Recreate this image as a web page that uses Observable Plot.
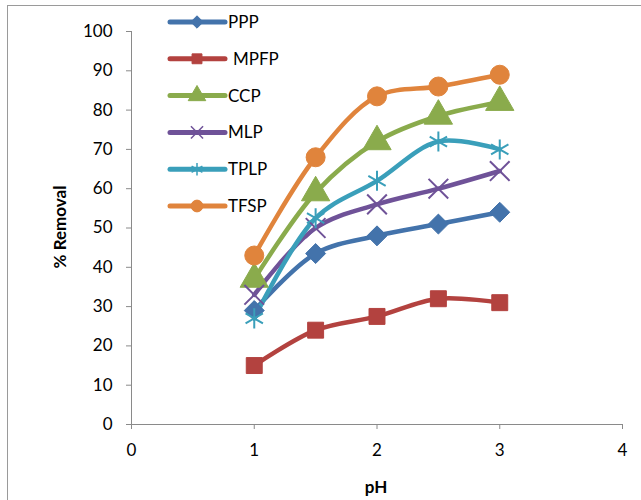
<!DOCTYPE html>
<html><head><meta charset="utf-8">
<script src="https://cdn.jsdelivr.net/npm/d3@7"></script>
<script src="https://cdn.jsdelivr.net/npm/@observablehq/plot@0.6"></script>
<style>
body{margin:0;background:#fff;}
#wrap{position:relative;width:641px;height:500px;overflow:hidden;font-family:Lato,"Liberation Sans",sans-serif}
#frame{position:absolute;left:7px;top:5px;width:700px;height:600px;border:1px solid #9a9a9a;pointer-events:none}
#chart{position:absolute;left:0;top:0}
</style>
</head><body>
<div id="wrap"><div id="chart"></div><div id="frame"></div></div>
<script>
const pH = [1, 1.5, 2, 2.5, 3];
const seriesNames = ["PPP", "MPFP", "CCP", "MLP", "TPLP", "TFSP"];
const PPP  = [29, 43.5, 48, 51, 54];
const MPFP = [15, 24, 27.5, 32, 31];
const CCP  = [37, 59, 72, 78.5, 82];
const MLP  = [33, 50, 56, 60, 64.5];
const TPLP = [27, 52.5, 62, 72, 70];
const TFSP = [43, 68, 83.5, 86, 89];
const xTicks = [0, 1, 2, 3, 4];
const yTicks = [0, 10, 20, 30, 40, 50, 60, 70, 80, 90, 100];
const colors = ["#4373ab", "#b3423f", "#8aab4c", "#6f5298", "#3a9fba", "#e0843c"];
const symbols = ["diamond2", "square", "triangle", "times", "asterisk", "circle"];
const filled = [true, true, true, false, false, true];
const sizes = [9, 9, 10.5, 9, 9.5, 9.5];
const values = [PPP, MPFP, CCP, MLP, TPLP, TFSP];

const data = [];
seriesNames.forEach((s, i) => values[i].forEach((v, j) => data.push({series: s, idx: i, x: pH[j], y: v})));

const marks = [
  Plot.ruleY([0], {stroke: "#8a8a8a"}),
  Plot.ruleX([0], {stroke: "#8a8a8a"}),
  Plot.axisY({ticks: yTicks, tickSize: 5, tickPadding: 14, stroke: "#8a8a8a", fontSize: 17, fill: "#000", label: null, tickFormat: d3.format("d")}),
  Plot.axisX({ticks: xTicks, tickSize: 5, tickPadding: 14, stroke: "#8a8a8a", fontSize: 17, fill: "#000", label: null, tickFormat: d3.format("d")}),
];
seriesNames.forEach((s, i) => {
  const d = data.filter(r => r.series === s);
  marks.push(Plot.line(d, {x: "x", y: "y", stroke: colors[i], strokeWidth: 4.5, curve: "catmull-rom"}));
});
seriesNames.forEach((s, i) => {
  const d = data.filter(r => r.series === s);
  marks.push(Plot.dot(d, {x: "x", y: "y", symbol: () => symbols[i], r: sizes[i],
    fill: filled[i] ? colors[i] : "none", stroke: colors[i], strokeWidth: filled[i] ? 1 : 2}));
});

const chart = Plot.plot({
  width: 641, height: 500,
  marginLeft: 131, marginRight: 19, marginTop: 31, marginBottom: 76,
  style: {fontFamily: "Lato, 'Liberation Sans', sans-serif", background: "transparent", overflow: "visible"},
  x: {domain: [0, 4]},
  y: {domain: [0, 100]},
  marks
});

const svg = d3.select(chart);
// axis titles
svg.append("text").attr("transform", "translate(66,227) rotate(-90)").attr("text-anchor", "middle")
  .attr("font-weight", "bold").attr("font-size", 17).attr("font-family", "Lato, sans-serif").text("% Removal");
svg.append("text").attr("x", 376).attr("y", 493).attr("text-anchor", "middle")
  .attr("font-weight", "bold").attr("font-size", 17).attr("font-family", "Lato, sans-serif").text("pH");

// legend
const symMap = {diamond2: d3.symbolDiamond2, square: d3.symbolSquare, triangle: d3.symbolTriangle,
  times: d3.symbolTimes, asterisk: d3.symbolAsterisk, circle: d3.symbolCircle};
const lg = svg.append("g");
seriesNames.forEach((s, i) => {
  const y = 22 + i * 36.8;
  const g = lg.append("g").attr("transform", `translate(0,${y})`);
  g.append("line").attr("x1", 170).attr("x2", 225).attr("stroke", colors[i]).attr("stroke-width", 5).attr("stroke-linecap", "round");
  g.append("path").attr("transform", "translate(197,0)")
    .attr("d", d3.symbol(symMap[symbols[i]], Math.PI * (sizes[i] * 0.62) ** 2)())
    .attr("fill", filled[i] ? colors[i] : "none").attr("stroke", colors[i]).attr("stroke-width", filled[i] ? 1 : 1.5);
  g.append("text").attr("x", s === "MPFP" ? 233 : 228).attr("y", 0).attr("dy", "0.35em")
    .attr("text-anchor", "start")
    .attr("font-size", 17).attr("font-family", "Lato, sans-serif").text(s);
});

document.getElementById("chart").appendChild(chart);
</script>
</body></html>
